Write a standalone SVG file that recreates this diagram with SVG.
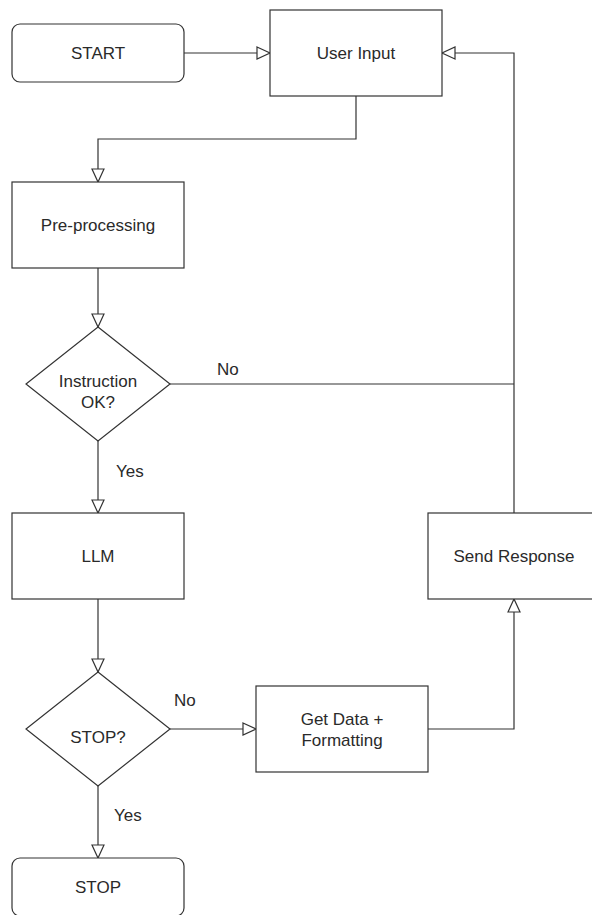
<svg xmlns="http://www.w3.org/2000/svg" width="592" height="915" viewBox="0 0 592 915">
  <defs>
    <style>
      .box { fill: #ffffff; stroke: #333333; stroke-width: 1.2; }
      .edge { fill: none; stroke: #333333; stroke-width: 1.2; }
      .lbl { font-family: "Liberation Sans", Arial, sans-serif; font-size: 17px; fill: #2a2a2a; text-anchor: middle; }
      .elbl { font-family: "Liberation Sans", Arial, sans-serif; font-size: 17px; fill: #2a2a2a; }
    </style>
    <marker id="arr" markerUnits="userSpaceOnUse" markerWidth="16" markerHeight="16" refX="14" refY="7" orient="auto" viewBox="0 0 16 14">
      <path d="M1,1 L14,7 L1,13 Z" fill="#ffffff" stroke="#333333" stroke-width="1.2"/>
    </marker>
  </defs>
  <rect width="592" height="915" fill="#ffffff"/>

  <g id="edges">
    <path class="edge" d="M184,53 H270" marker-end="url(#arr)"/>
    <path class="edge" d="M356,96 V139 H98 V182" marker-end="url(#arr)"/>
    <path class="edge" d="M98,268 V327" marker-end="url(#arr)"/>
    <path class="edge" d="M98,441 V513" marker-end="url(#arr)"/>
    <path class="edge" d="M170,384 H514"/>
    <path class="edge" d="M514,513 V53 H442" marker-end="url(#arr)"/>
    <path class="edge" d="M98,599 V672" marker-end="url(#arr)"/>
    <path class="edge" d="M98,786 V858" marker-end="url(#arr)"/>
    <path class="edge" d="M170,729 H256" marker-end="url(#arr)"/>
    <path class="edge" d="M428,729 H514 V599" marker-end="url(#arr)"/>
    <text class="elbl" x="217" y="375">No</text>
    <text class="elbl" x="116" y="477">Yes</text>
    <text class="elbl" x="174" y="706">No</text>
    <text class="elbl" x="114" y="821">Yes</text>
  </g>

  <g id="start">
    <rect class="box" x="12" y="24" width="172" height="58" rx="8" ry="8"/>
    <text class="lbl" x="98" y="59">START</text>
  </g>
  <g id="user-input">
    <rect class="box" x="270" y="10" width="172" height="86"/>
    <text class="lbl" x="356" y="59">User Input</text>
  </g>
  <g id="pre-processing">
    <rect class="box" x="12" y="182" width="172" height="86"/>
    <text class="lbl" x="98" y="231">Pre-processing</text>
  </g>
  <g id="instruction-ok">
    <polygon class="box" points="98,327 170,384 98,441 26,384"/>
    <text class="lbl" x="98" y="387">Instruction</text>
    <text class="lbl" x="98" y="408">OK?</text>
  </g>
  <g id="llm">
    <rect class="box" x="12" y="513" width="172" height="86"/>
    <text class="lbl" x="98" y="562">LLM</text>
  </g>
  <g id="send-response">
    <rect class="box" x="428" y="513" width="172" height="86"/>
    <text class="lbl" x="514" y="562">Send Response</text>
  </g>
  <g id="stop-decision">
    <polygon class="box" points="98,672 170,729 98,786 26,729"/>
    <text class="lbl" x="98" y="743">STOP?</text>
  </g>
  <g id="get-data">
    <rect class="box" x="256" y="686" width="172" height="86"/>
    <text class="lbl" x="342" y="725">Get Data +</text>
    <text class="lbl" x="342" y="746">Formatting</text>
  </g>
  <g id="stop">
    <rect class="box" x="12" y="858" width="172" height="58" rx="8" ry="8"/>
    <text class="lbl" x="98" y="893">STOP</text>
  </g>
</svg>
